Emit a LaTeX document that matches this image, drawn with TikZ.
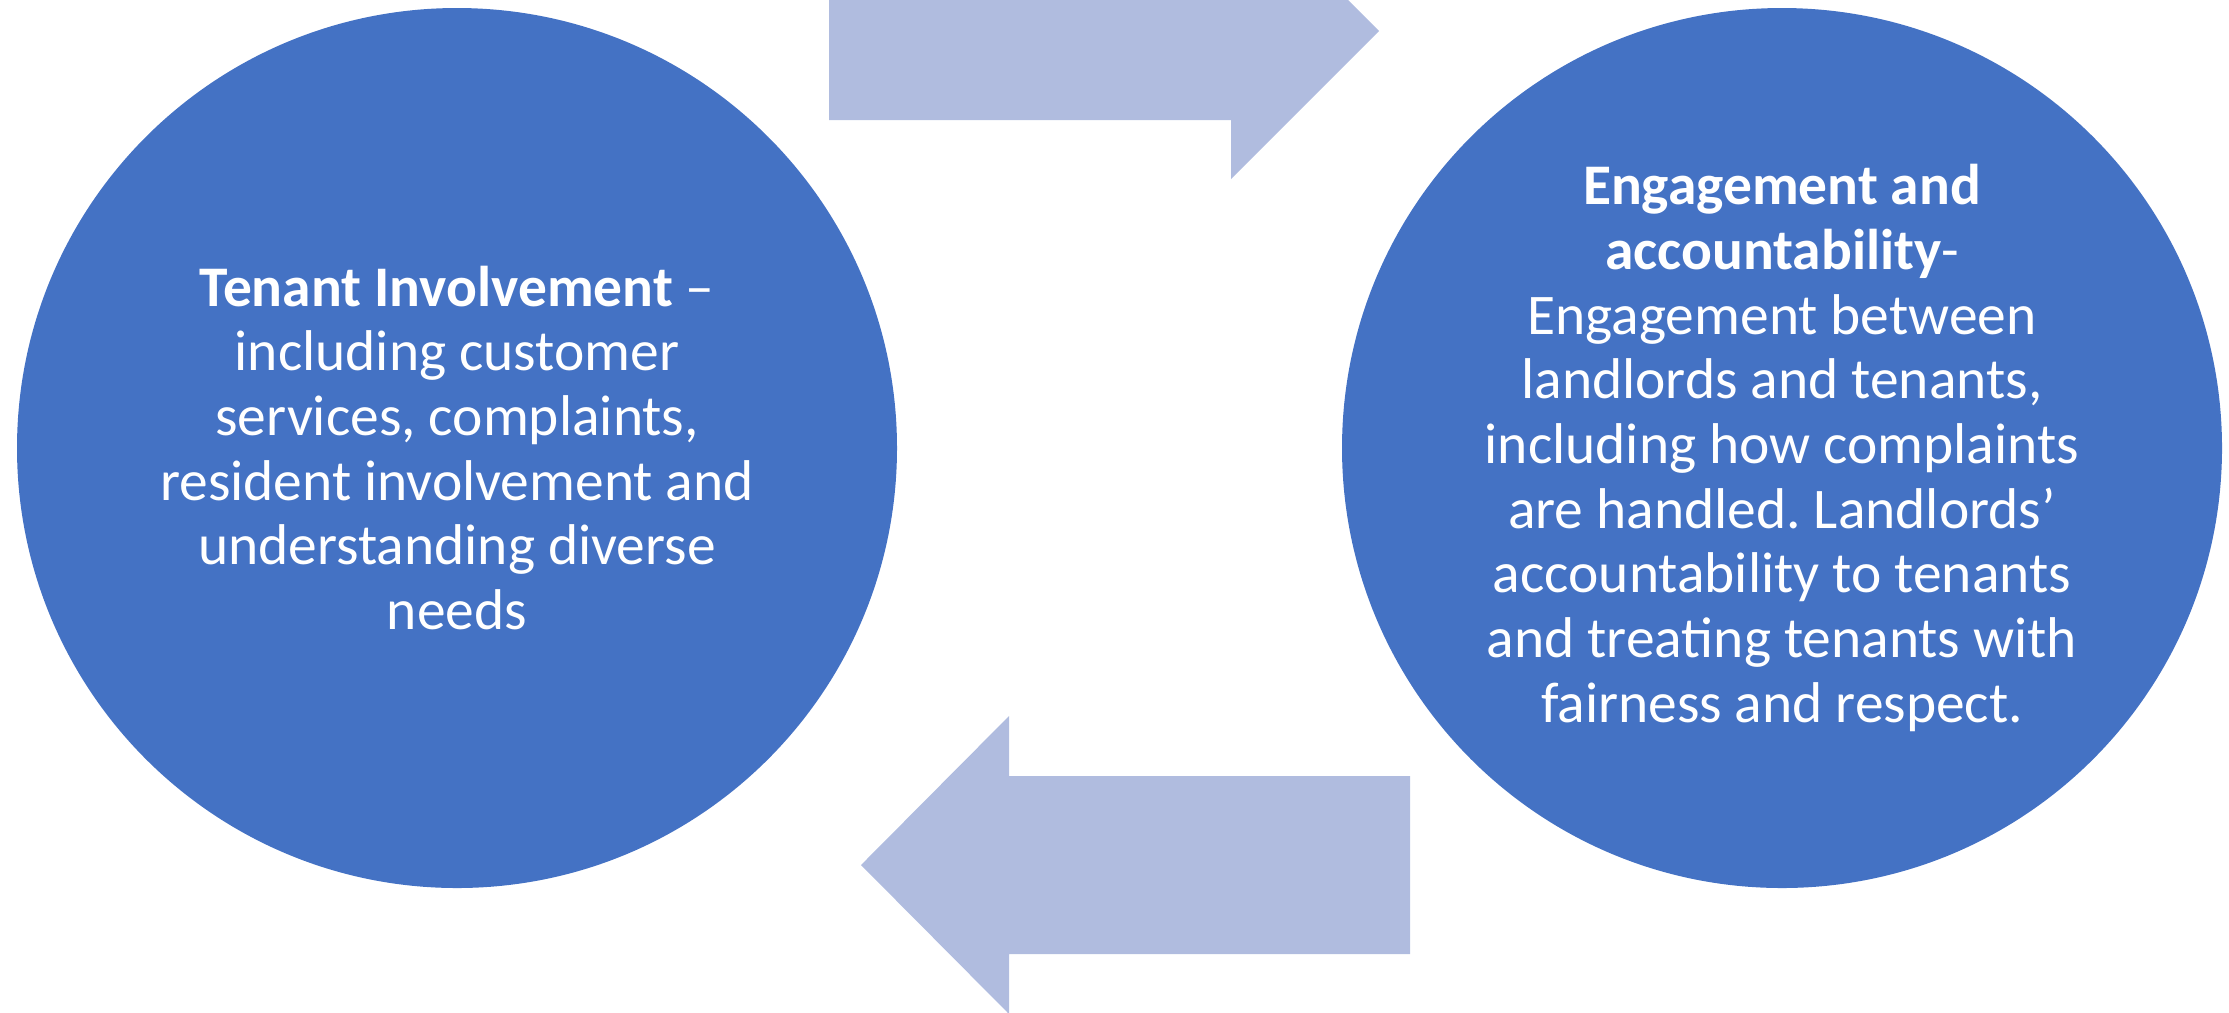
\documentclass[tikz,border=0pt]{standalone}
\usepackage{fontspec}
\setmainfont{Carlito}
\usepackage{xcolor}
\usepackage{tikz}

\definecolor{circblue}{RGB}{68,114,196}
\definecolor{arrowblue}{RGB}{176,188,223}

\begin{document}
\frenchspacing
\begin{tikzpicture}
                \tikzstyle{topic} = [circle, fill=circblue, text=white, inner sep=0pt, minimum size=8.8cm, align=center, font=\fontsize{16.35}{18.4}\selectfont]
                \tikzstyle{flow} = [fill=arrowblue]
                \useasboundingbox (0,0) rectangle (22.29,-10.12);
                \clip (0,0) rectangle (22.29,-10.12);
                % the two topics
                \node[topic] (tenant) at (4.57,-4.48) {\textbf{Tenant Involvement} –\\including customer\\services, complaints,\\resident involvement and\\understanding diverse\\needs};
                \node[topic] (engage) at (17.82,-4.48) {\textbf{Engagement and}\\\textbf{accountability}-\\Engagement between\\landlords and tenants,\\including how complaints\\are handled. Landlords’\\accountability to tenants\\and treating tenants with\\fairness and respect.};
                % arrows between them
                \fill[flow] (8.29,0.58) -- (12.31,0.58) -- (12.31,1.17) -- (13.79,-0.31) -- (12.31,-1.79) -- (12.31,-1.20) -- (8.29,-1.20) -- cycle;
                \fill[flow] (14.10,-7.76) -- (10.09,-7.76) -- (10.09,-7.16) -- (8.61,-8.65) -- (10.09,-10.14) -- (10.09,-9.54) -- (14.10,-9.54) -- cycle;
            \end{tikzpicture}
\end{document}
